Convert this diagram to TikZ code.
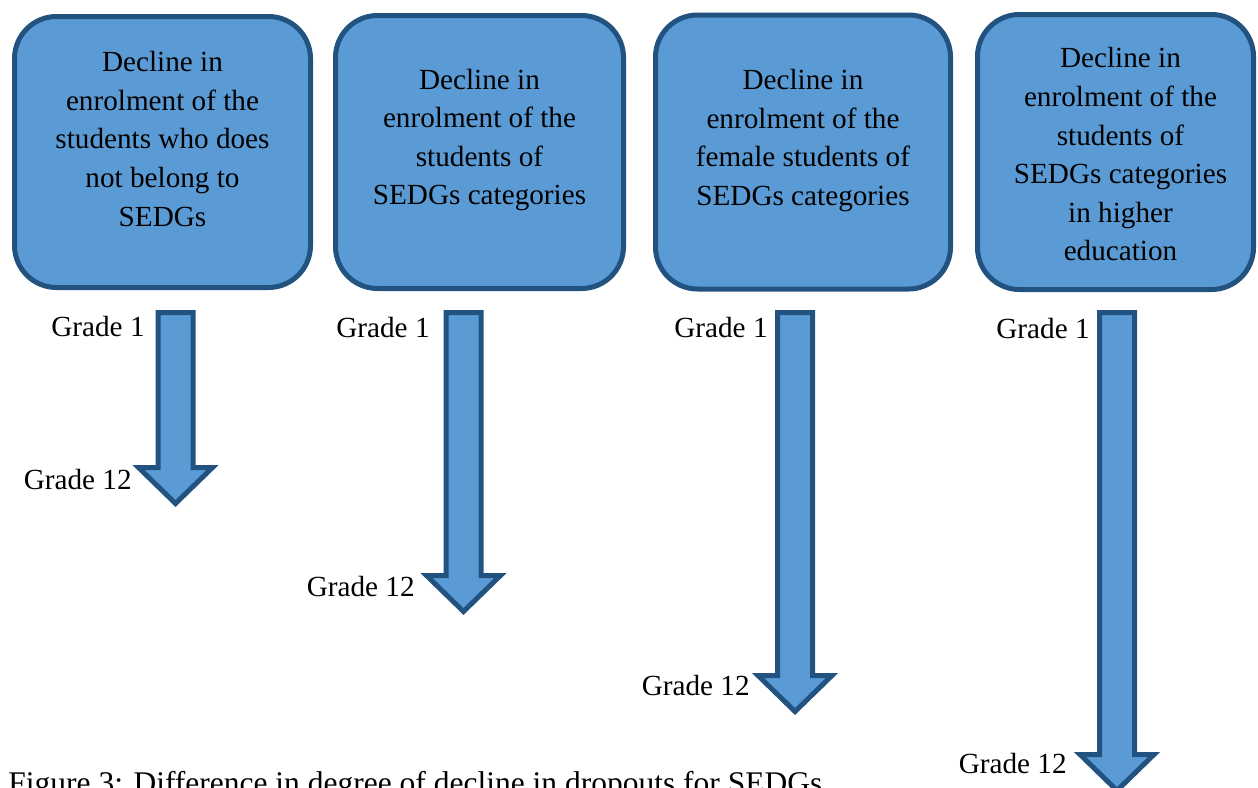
\documentclass[tikz,border=0pt]{standalone}
\usepackage{fontspec}
\setmainfont{Liberation Serif}
\usetikzlibrary{positioning}
\definecolor{BoxBlue}{RGB}{91,155,213}
\definecolor{EdgeBlue}{RGB}{34,82,128}
\tikzset{%
  declinebox/.style={%
    rectangle,%
    rounded corners=21pt,%
    draw=EdgeBlue,%
    fill=BoxBlue,%
    line width=2.5pt,%
  },
  boxtext/.style={%
    align=center,%
    inner sep=0pt,%
    font={\fontsize{14.6}{19.3}\selectfont},%
  },
  blockarrow/.style={%
    draw=EdgeBlue,%
    fill=BoxBlue,%
    line width=2.5pt,%
    line join=miter,%
  },
  grade/.style={%
    inner sep=0pt,%
    font={\fontsize{14.6}{17}\selectfont},%
  },
  caption/.style={%
    inner sep=0pt,%
    font={\fontsize{15.75}{18}\selectfont},%
  },
}

\begin{document}
\begin{tikzpicture}[x=0.5pt, y=-0.5pt]
    \useasboundingbox (0,0) rectangle (1258,787);

    % the four boxes
    \node [declinebox, minimum width=148pt, minimum height=135.5pt] (box1) at (162.5,152) {};
    \node [declinebox, minimum width=144pt, minimum height=136.5pt, right = 10pt of box1] (box2) {};
    \node [declinebox, minimum width=147.5pt, minimum height=137pt, right = 13.5pt of box2] (box3) {};
    \node [declinebox, minimum width=138pt, minimum height=137.5pt, right = 11pt of box3] (box4) {};

    \node [boxtext] (txt1) at ([yshift=6.5pt]box1.center)
      {Decline in\\enrolment of the\\students who does\\not belong to\\SEDGs};
    \node [boxtext] (txt2) at ([yshift=6pt]box2.center)
      {Decline in\\enrolment of the\\students of\\SEDGs categories};
    \node [boxtext] (txt3) at ([yshift=5.75pt]box3.center)
      {Decline in\\enrolment of the\\female students of\\SEDGs categories};
    \node [boxtext] (txt4) at ([xshift=2.5pt, yshift=-1.25pt]box4.center)
      {Decline in\\enrolment of the\\students of\\SEDGs categories\\in higher\\education};

    % the down arrows, from grade 1 to grade 12
    \foreach \n/\cx/\hb in {1/175.5/467.5, 2/463.5/575.5, 3/795/675.5, 4/1117/754.5}
      \draw [blockarrow]
        (\cx-17.5,312.5) coordinate (shaft\n)
        -- (\cx+17.5,312.5)
        -- (\cx+17.5,\hb)
        -- (\cx+37,\hb)
        -- (\cx,\hb+36) coordinate (tip\n)
        -- (\cx-37,\hb)
        -- (\cx-17.5,\hb)
        -- cycle;

    \node [grade, anchor=east] (top1) at (145,327) {Grade 1};
    \node [grade, anchor=east] (top2) at (430,328) {Grade 1};
    \node [grade, anchor=east] (top3) at (768,328) {Grade 1};
    \node [grade, anchor=east] (top4) at (1090,329) {Grade 1};

    \node [grade, anchor=east] (bottom1) at (132,480) {Grade 12};
    \node [grade, anchor=east] (bottom2) at (415,587) {Grade 12};
    \node [grade, anchor=east] (bottom3) at (750,686) {Grade 12};
    \node [grade, anchor=east] (bottom4) at (1067,764) {Grade 12};

    \node [caption, anchor=base west] (figcaption) at (8,793)
      {Figure 3: Difference in degree of decline in dropouts for SEDGs};
\end{tikzpicture}
\end{document}
